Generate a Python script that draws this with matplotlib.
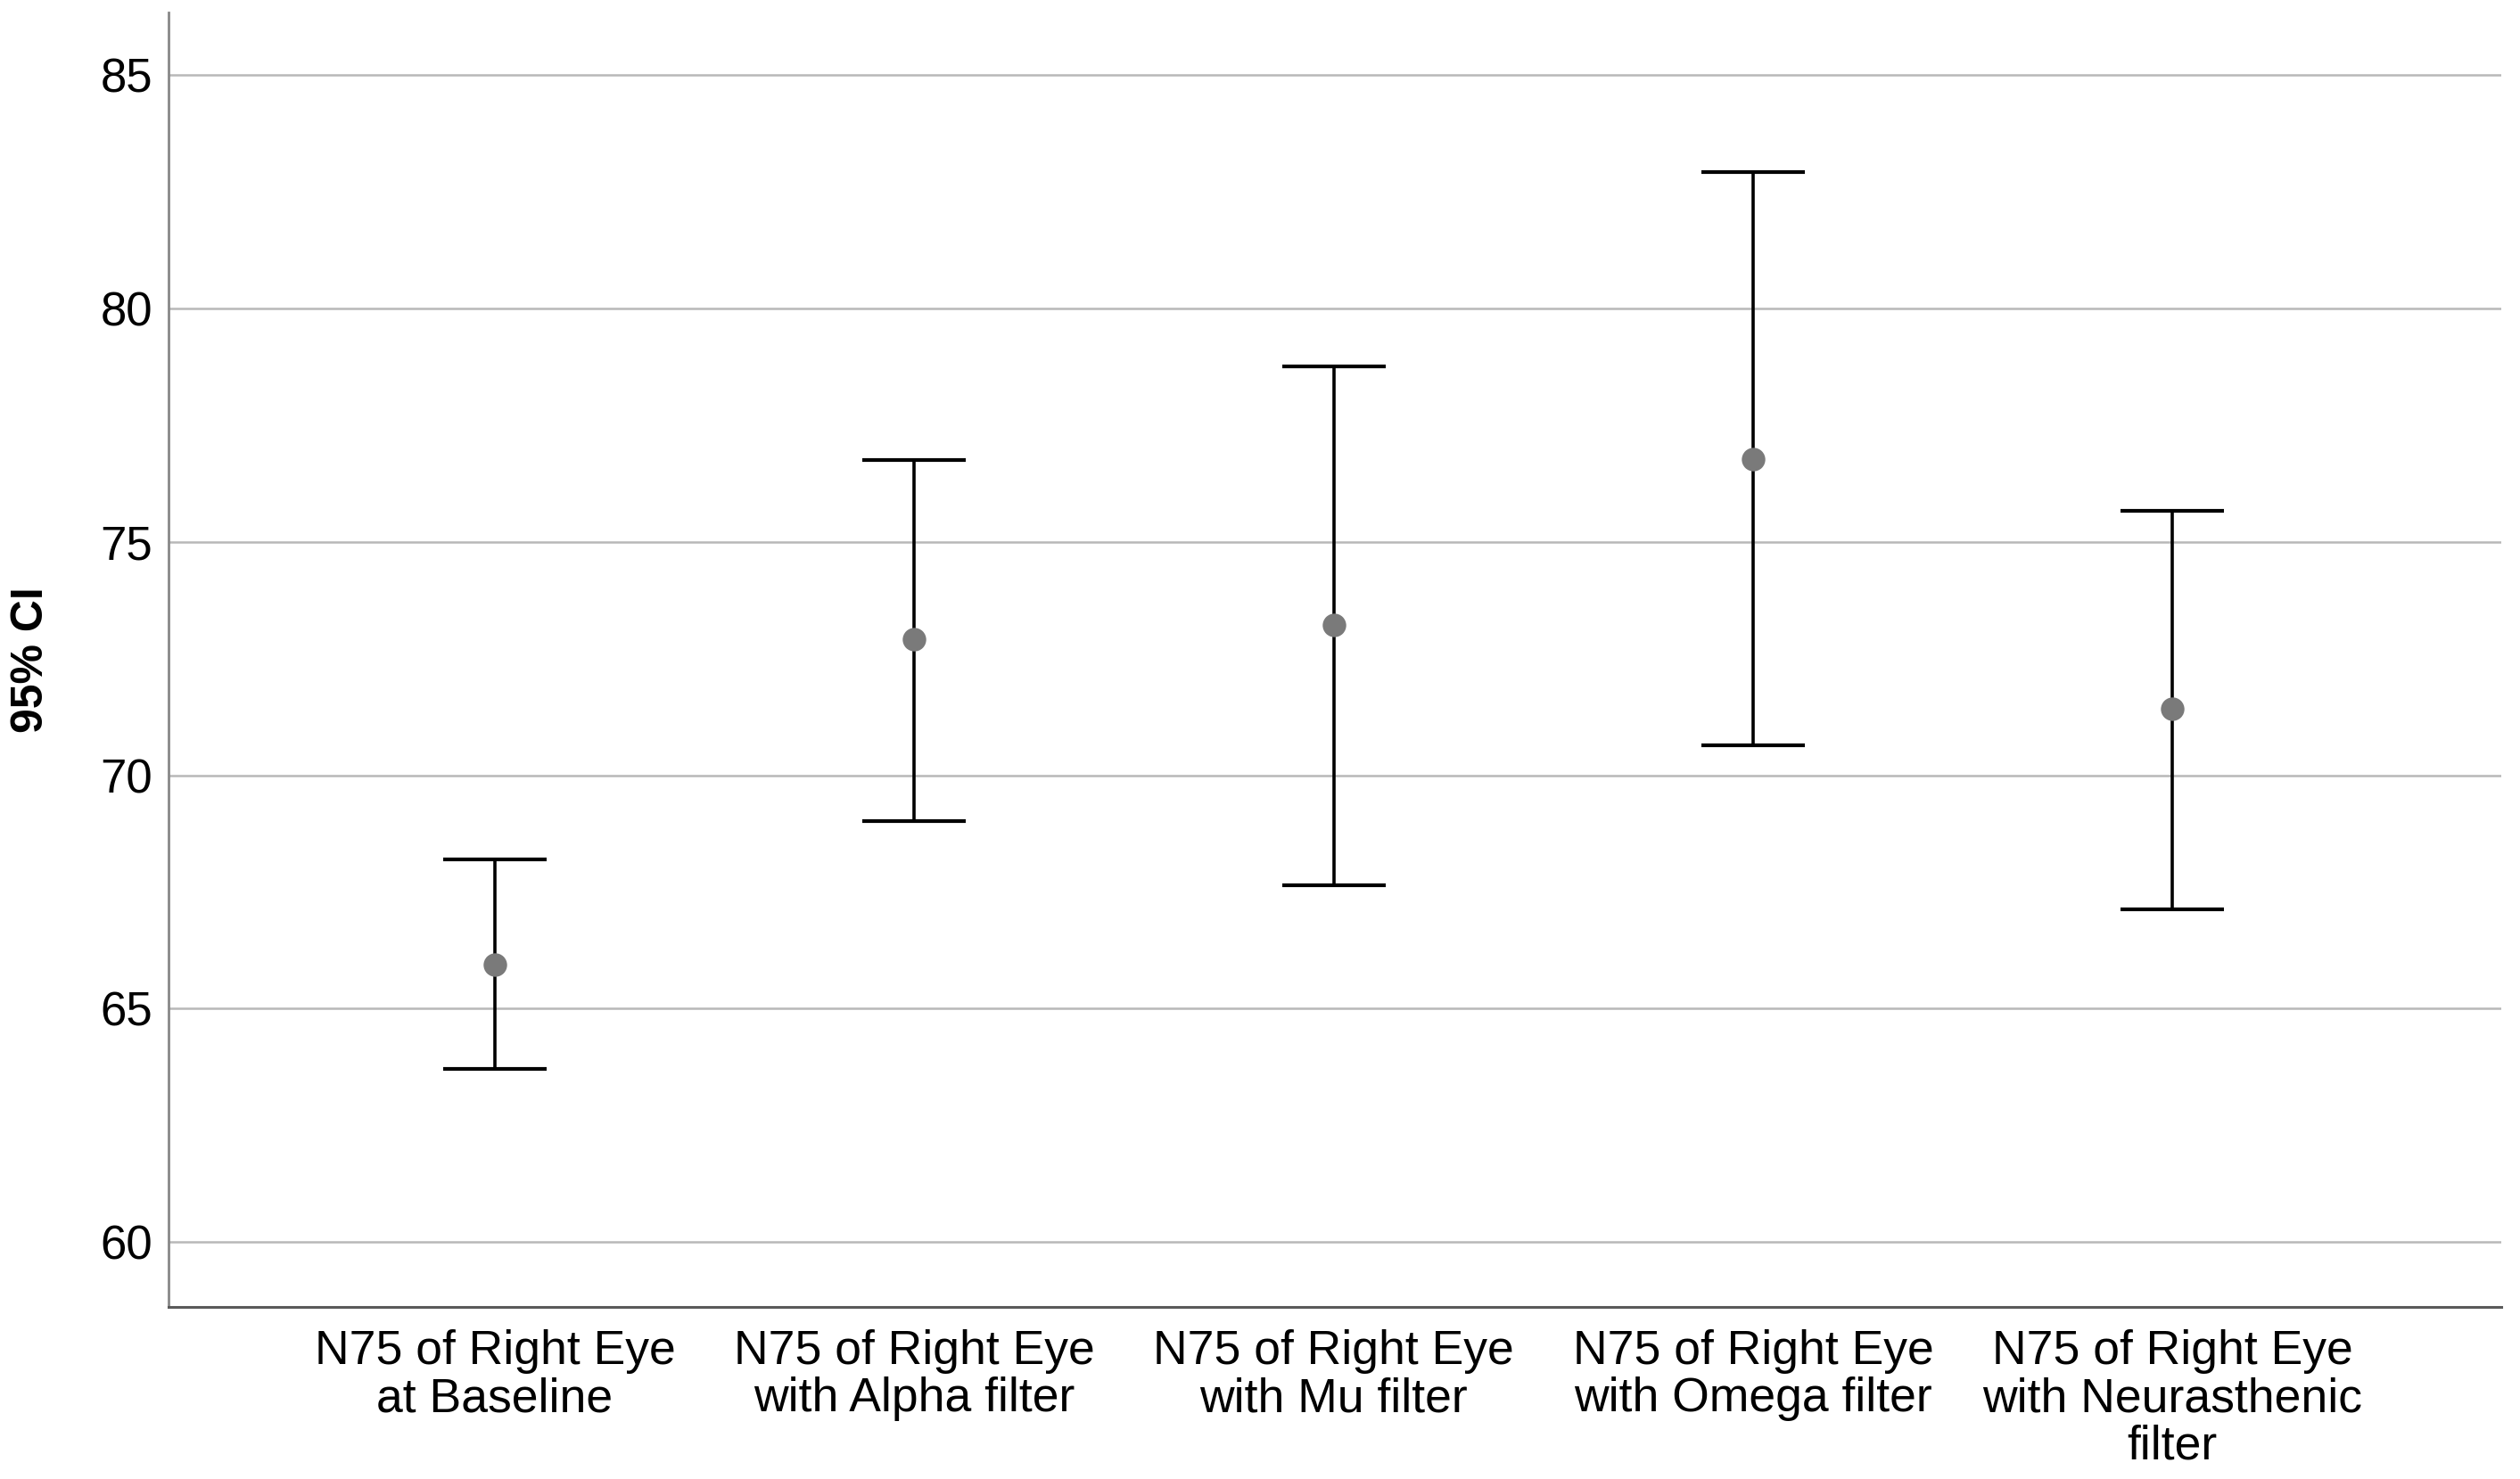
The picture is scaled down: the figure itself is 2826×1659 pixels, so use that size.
import numpy as np
import matplotlib
matplotlib.use('Agg')
import matplotlib.pyplot as plt

plt.rcParams['font.family'] = ['Liberation Sans', 'DejaVu Sans']

# 95% CI of N75 (right eye)
labels = ['N75 of Right Eye\nat Baseline',
          'N75 of Right Eye\nwith Alpha filter',
          'N75 of Right Eye\nwith Mu filter',
          'N75 of Right Eye\nwith Omega filter',
          'N75 of Right Eye\nwith Neurasthenic\nfilter']
mean = [65.94, 72.91, 73.22, 76.77, 71.43]
lower = [63.71, 69.02, 67.64, 70.64, 67.13]
upper = [68.19, 76.76, 78.76, 82.92, 75.66]

x = np.arange(len(labels))
mean = np.array(mean)
yerr = [mean - np.array(lower), np.array(upper) - mean]

fig = plt.figure(figsize=(28.26, 16.59), dpi=100)
ax = fig.add_axes([0.0669, 0.1163, 0.9257, 0.8753])

ax.errorbar(x, mean, yerr=yerr, fmt='none', ecolor='black',
            elinewidth=2.6, capsize=42, capthick=3.0, zorder=3)
ax.plot(x, mean, 'o', color='#7a7a7a', markersize=19, markeredgewidth=0, zorder=4)

ax.set_xlim(-0.778, 4.784)
ax.set_ylim(58.61, 86.34)
ax.set_yticks([60, 65, 70, 75, 80, 85])
ax.set_xticks(x)
ax.set_xticklabels(labels, fontsize=38.5, linespacing=1.08)
ax.tick_params(axis='y', labelsize=38, length=0, pad=13)
ax.tick_params(axis='x', length=0, pad=18)

ax.yaxis.grid(True, color='#b8b8b8', linewidth=1.8, zorder=0)
ax.set_axisbelow(True)

ax.spines['top'].set_visible(False)
ax.spines['right'].set_visible(False)
ax.spines['left'].set_color('#888888')
ax.spines['left'].set_linewidth(2.0)
ax.spines['bottom'].set_color('#5a5a5a')
ax.spines['bottom'].set_linewidth(2.2)

ax.set_ylabel('95% CI', fontsize=36, fontweight='bold', va='center')
ax.yaxis.set_label_coords(-0.0589, 0.5)

fig.savefig('out.png', dpi=100)
